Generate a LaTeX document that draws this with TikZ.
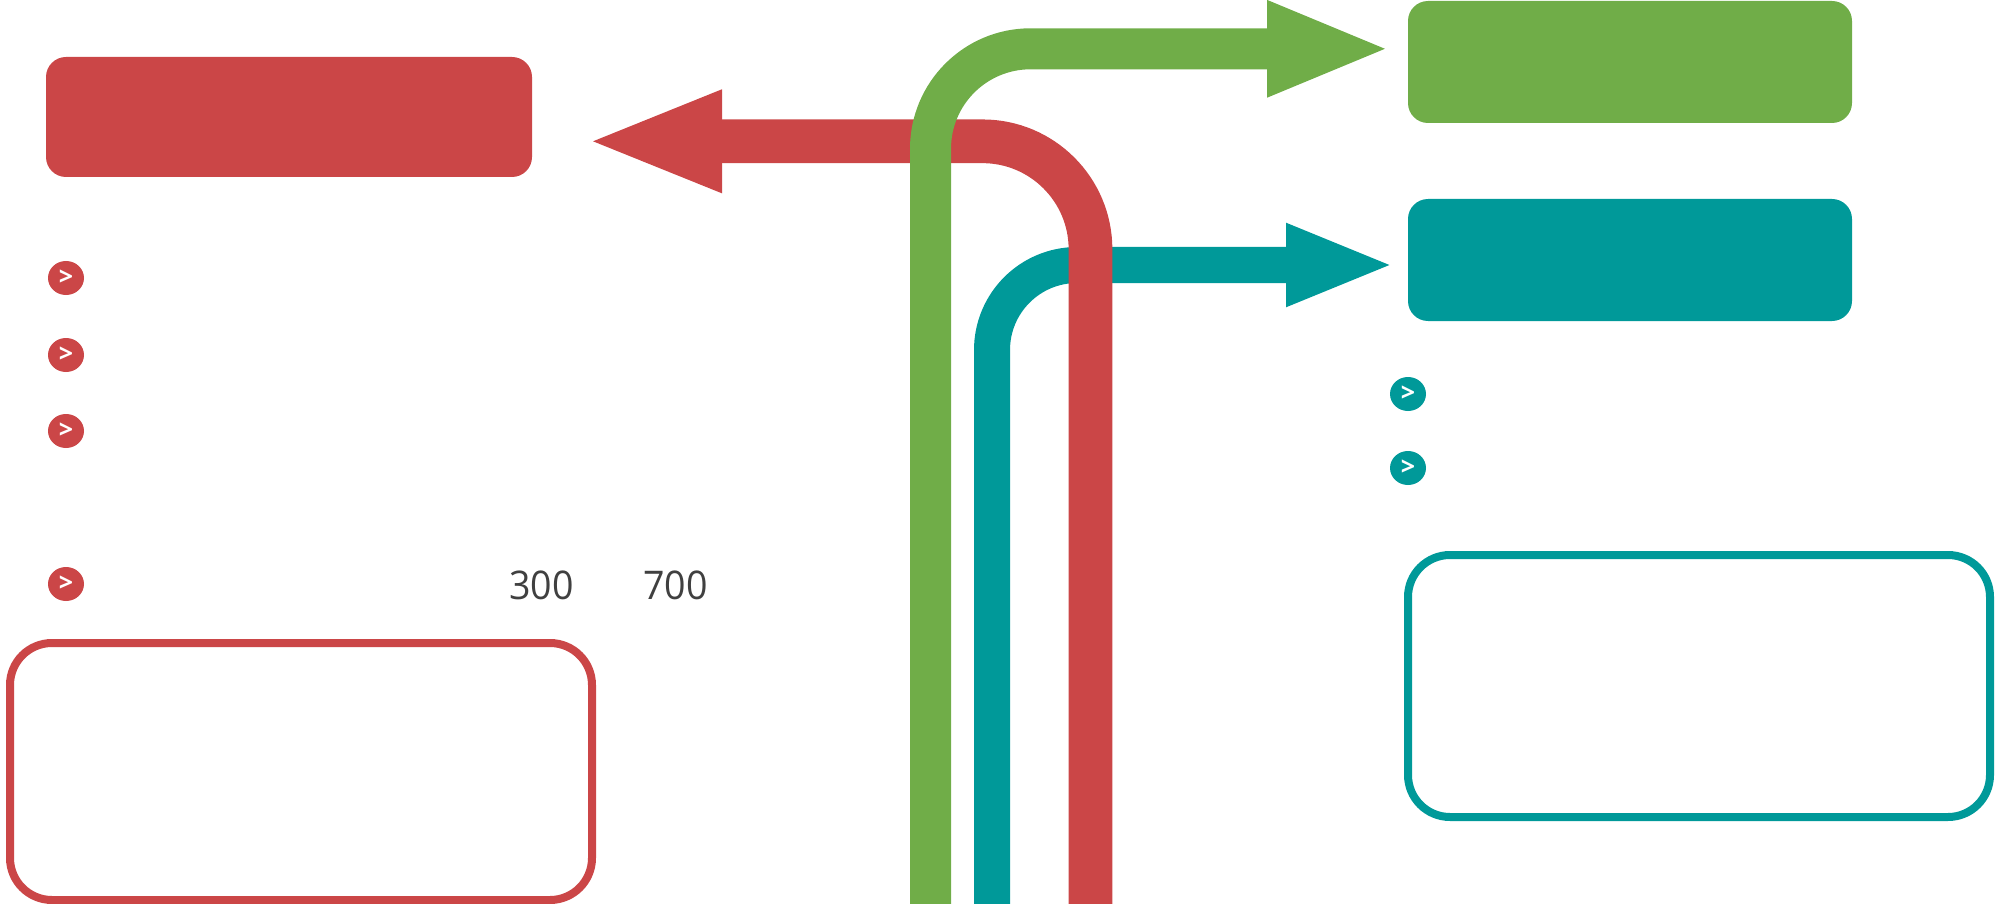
\documentclass[tikz,border=0pt]{standalone}
\usepackage{fontspec}
\setmainfont{Open Sans}
\newfontfamily\numfont[FakeStretch=0.95]{Open Sans}
\usetikzlibrary{arrows.meta,shapes.geometric}
\definecolor{cred}{RGB}{203,70,71}
\definecolor{cgreen}{RGB}{112,173,72}
\definecolor{cteal}{RGB}{0,153,153}
\definecolor{ctext}{RGB}{64,64,64}
\tikzset{
  solidbox/.style={rectangle,rounded corners=20pt,inner sep=0pt,outer sep=0pt,anchor=north west},
  framebox/.style={rectangle,rounded corners=42pt,inner sep=0pt,outer sep=0pt,anchor=north west,line width=8pt,fill=white},
  bullet/.style={ellipse,fill=#1,text=white,inner sep=0pt,outer sep=0pt,minimum width=36pt,minimum height=34pt,font=\fontsize{25}{25}\selectfont\bfseries},
  numlabel/.style={anchor=base,inner sep=0pt,text=ctext,font=\fontsize{39.5}{42}\selectfont\numfont},
}
\newcommand{\chev}{\raisebox{-1.5pt}{>}}
\begin{document}
\begin{tikzpicture}[x=1pt,y=-1pt]
\useasboundingbox (0,0) rectangle (1995,904);
% solid boxes
\node[solidbox,fill=cred,minimum width=486pt,minimum height=120pt] (redbox) at (46,57) {};
\node[solidbox,fill=cgreen,minimum width=444pt,minimum height=122pt] (greenbox) at (1408,1) {};
\node[solidbox,fill=cteal,minimum width=444pt,minimum height=122pt] (tealbox) at (1408,199) {};
% outline boxes
\node[framebox,draw=cred,minimum width=582pt,minimum height=257pt] (redframe) at (10,643) {};
\node[framebox,draw=cteal,minimum width=582pt,minimum height=262pt] (tealframe) at (1408,555) {};
% arrow end points
\coordinate (tealstart) at (992,904);
\coordinate (tealbend) at (992,265);
\coordinate (tealtip) at (1395.5,265);
\coordinate (redstart) at (1090.5,904);
\coordinate (redbend) at (1090.5,141.3);
\coordinate (redtip) at (585,141.3);
\coordinate (greenstart) at (930.5,904);
\coordinate (greenbend) at (930.5,48.8);
\coordinate (greentip) at (1391.5,48.8);
% arrows
\draw[cteal,line width=36pt,rounded corners=85pt,-{Triangle[length=109.5pt,width=75pt]}] (tealstart) -- (tealbend) -- (tealtip);
\draw[cred,line width=43.7pt,rounded corners=108pt,-{Triangle[length=137pt,width=92pt]}] (redstart) -- (redbend) -- (redtip);
\draw[cgreen,line width=41pt,rounded corners=100pt,-{Triangle[length=124.5pt,width=87pt]}] (greenstart) -- (greenbend) -- (greentip);
% bullets
\node[bullet=cred] (b1) at (66,278) {\chev};
\node[bullet=cred] (b2) at (66,355) {\chev};
\node[bullet=cred] (b3) at (66,431) {\chev};
\node[bullet=cred] (b4) at (66,584) {\chev};
\node[bullet=cteal] (b5) at (1408,394) {\chev};
\node[bullet=cteal] (b6) at (1408,468) {\chev};
% labels
\node[numlabel] (n300) at (541.5,599) {300};
\node[numlabel] (n700) at (675.5,599) {700};
\end{tikzpicture}
\end{document}
